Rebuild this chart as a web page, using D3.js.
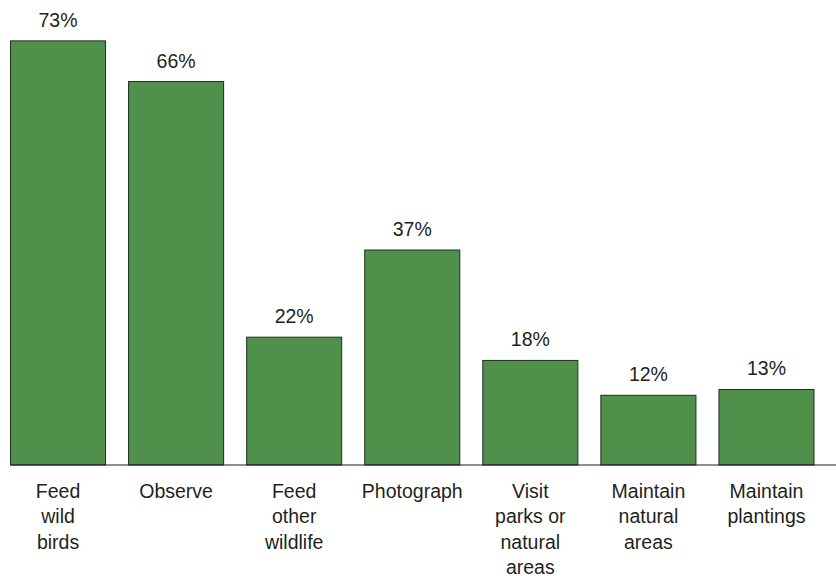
<!DOCTYPE html>
<html>
<head>
<meta charset="utf-8">
<script src="https://cdn.jsdelivr.net/npm/d3@7"></script>
<style>
  body { margin: 0; background: #fff; }
  text { font-family: "Liberation Sans", Arial, Helvetica, sans-serif; fill: #231f20; }
</style>
</head>
<body>
<div id="chart"></div>
<script>
// activities and share of participants (%)
const categories = ["Feed wild birds", "Observe", "Feed other wildlife", "Photograph",
    "Visit parks or natural areas", "Maintain natural areas", "Maintain plantings"]
const labelLines = [["Feed", "wild", "birds"], ["Observe"], ["Feed", "other", "wildlife"], ["Photograph"],
    ["Visit", "parks or", "natural", "areas"], ["Maintain", "natural", "areas"], ["Maintain", "plantings"]]
const values = [73, 66, 22, 37, 18, 12, 13]

const width = 836
const height = 576
const baseY = 465

const svg = d3.select("#chart")
    .append("svg")
    .attr("width", width)
    .attr("height", height)

const xScale = d3.scaleBand()
    .domain(categories)
    .range([10.5, 814])
    .paddingInner(0.195)
    .paddingOuter(0)

const yScale = d3.scaleLinear()
    .domain([0, 80])
    .range([baseY, 0.2])

// bars
svg.append("g")
    .selectAll("rect")
    .data(values)
    .enter()
    .append("rect")
    .attr("x", (d, i) => xScale(categories[i]))
    .attr("y", d => yScale(d))
    .attr("width", xScale.bandwidth())
    .attr("height", d => baseY - yScale(d))
    .attr("fill", "#4f914a")
    .attr("stroke", "#1f2d22")
    .attr("stroke-width", 1)

// baseline
svg.append("line")
    .attr("x1", xScale(categories[0]))
    .attr("x2", width)
    .attr("y1", baseY)
    .attr("y2", baseY)
    .attr("stroke", "#231f20")
    .attr("stroke-width", 1.2)

// value labels
svg.append("g")
    .selectAll("text")
    .data(values)
    .enter()
    .append("text")
    .attr("x", (d, i) => xScale(categories[i]) + xScale.bandwidth() / 2)
    .attr("y", d => yScale(d) - 14)
    .attr("text-anchor", "middle")
    .style("font-size", "19.5px")
    .text(d => d + "%")

// category labels
const cat = svg.append("g")
    .selectAll("text")
    .data(labelLines)
    .enter()
    .append("text")
    .attr("text-anchor", "middle")
    .style("font-size", "19.5px")
    .attr("transform", (d, i) => "translate(" + (xScale(categories[i]) + xScale.bandwidth() / 2) + "," + (baseY + 33) + ")")

cat.selectAll("tspan")
    .data(d => d)
    .enter()
    .append("tspan")
    .attr("x", 0)
    .attr("y", (d, j) => j * 25.3)
    .text(d => d)
</script>
</body>
</html>
